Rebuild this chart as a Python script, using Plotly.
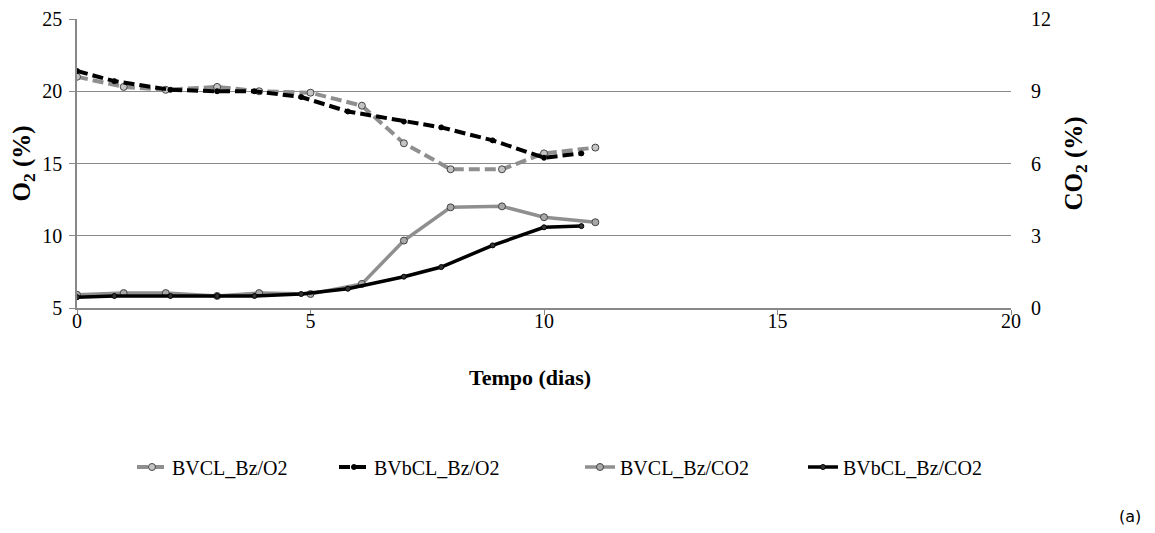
import plotly.graph_objects as go

# Data
days_bvcl = [0, 1, 1.9, 3, 3.9, 5, 6.1, 7, 8, 9.1, 10, 11.1]
o2_bvcl = [21.0, 20.3, 20.1, 20.3, 20.0, 19.9, 19.0, 16.4, 14.6, 14.6, 15.7, 16.1]
co2_bvcl = [0.55, 0.62, 0.62, 0.5, 0.62, 0.58, 1.0, 2.8, 4.18, 4.22, 3.77, 3.56]

days_bvbcl = [0, 0.8, 2, 3, 3.8, 4.8, 5.8, 7, 7.8, 8.9, 10, 10.8]
o2_bvbcl = [21.4, 20.7, 20.1, 20.0, 20.0, 19.6, 18.6, 17.9, 17.5, 16.6, 15.4, 15.7]
co2_bvbcl = [0.45, 0.5, 0.5, 0.5, 0.5, 0.58, 0.8, 1.3, 1.7, 2.6, 3.35, 3.4]

x_ticks = [0, 5, 10, 15, 20]
o2_ticks = [5, 10, 15, 20, 25]
co2_ticks = [0, 3, 6, 9, 12]
grid_vals = [10, 15, 20]

GRAY = "#8f8f8f"
FONT = "Liberation Serif"
W, H = 1147, 525  # page body adds an 8px margin

fig = go.Figure()
# invisible trace on grid-only axis
fig.add_trace(go.Scatter(x=[None], y=[None], yaxis="y3", showlegend=False, hoverinfo="skip"))
fig.add_trace(go.Scatter(
    x=days_bvcl, y=o2_bvcl, name="BVCL_Bz/O2", mode="lines+markers", legend="legend",
    line=dict(color=GRAY, width=4, dash="11px,5px"),
    marker=dict(symbol="circle", size=7, color="#c4c4c4", line=dict(color="#444", width=1)),
    yaxis="y"))
fig.add_trace(go.Scatter(
    x=days_bvbcl, y=o2_bvbcl, name="BVbCL_Bz/O2", mode="lines+markers", legend="legend2",
    line=dict(color="#000000", width=4, dash="11px,5px"),
    marker=dict(symbol="circle", size=5, color="#000", line=dict(color="#000", width=1)),
    yaxis="y"))
fig.add_trace(go.Scatter(
    x=days_bvcl, y=co2_bvcl, name="BVCL_Bz/CO2", mode="lines+markers", legend="legend3",
    line=dict(color=GRAY, width=3.5),
    marker=dict(symbol="circle", size=7, color="#a8a8a8", line=dict(color="#444", width=1)),
    yaxis="y2"))
fig.add_trace(go.Scatter(
    x=days_bvbcl, y=co2_bvbcl, name="BVbCL_Bz/CO2", mode="lines+markers", legend="legend4",
    line=dict(color="#000000", width=3.5),
    marker=dict(symbol="circle", size=5, color="#333", line=dict(color="#000", width=1)),
    yaxis="y2"))

def leg(xpos):
    return dict(orientation="h", xref="container", x=xpos, xanchor="left",
                yref="container", y=0.1257, yanchor="middle",
                font=dict(family=FONT, size=20), bgcolor="rgba(0,0,0,0)")

fig.update_layout(
    width=W, height=H,
    margin=dict(l=69, r=144, t=11, b=225, autoexpand=False),
    paper_bgcolor="white", plot_bgcolor="white",
    font=dict(family=FONT, size=20, color="#000"),
    showlegend=True,
    legend=leg(0.1081), legend2=leg(0.2842), legend3=leg(0.4987), legend4=leg(0.6931),
    xaxis=dict(range=[0, 20], tickvals=x_ticks, showgrid=False, zeroline=False,
               showline=True, linecolor="#888", linewidth=1.5,
               ticks="outside", ticklen=5, tickcolor="#888",
               tickfont=dict(size=20), ticklabelstandoff=-11, ticklabeloverflow="allow"),
    yaxis=dict(range=[5, 25], tickvals=o2_ticks, showgrid=False, zeroline=False,
               showline=True, linecolor="#888", linewidth=1.5,
               ticks="outside", ticklen=6, tickcolor="#888",
               tickfont=dict(size=20), ticklabelstandoff=3, ticklabeloverflow="allow",
               title=dict(text="<b>O<sub>2</sub> (%)</b>", font=dict(family=FONT, size=25), standoff=16)),
    yaxis2=dict(range=[0, 12], tickvals=co2_ticks, overlaying="y", side="right",
                showgrid=False, zeroline=False, showline=False, ticks="",
                ticklabelstandoff=19, tickfont=dict(size=20), ticklabeloverflow="allow",
                title=dict(text="<b>CO<sub>2</sub> (%)</b>", font=dict(family=FONT, size=25), standoff=14)),
    yaxis3=dict(range=[5, 25], tickvals=grid_vals, overlaying="y", showgrid=True,
                gridcolor="#8a8a8a", gridwidth=1.2, showticklabels=False,
                zeroline=False, showline=False, ticks=""),
)

fig.add_annotation(text="<b>Tempo (dias)</b>", xref="paper", yref="paper", x=0.485, y=-0.241,
                   xanchor="center", yanchor="middle",
                   showarrow=False, font=dict(family=FONT, size=22))
fig.add_annotation(text="(a)", xref="paper", yref="paper", x=1.127, y=-0.72,
                   xanchor="center", yanchor="middle",
                   showarrow=False, font=dict(family="DejaVu Sans", size=16))

fig.write_html("out.html")
